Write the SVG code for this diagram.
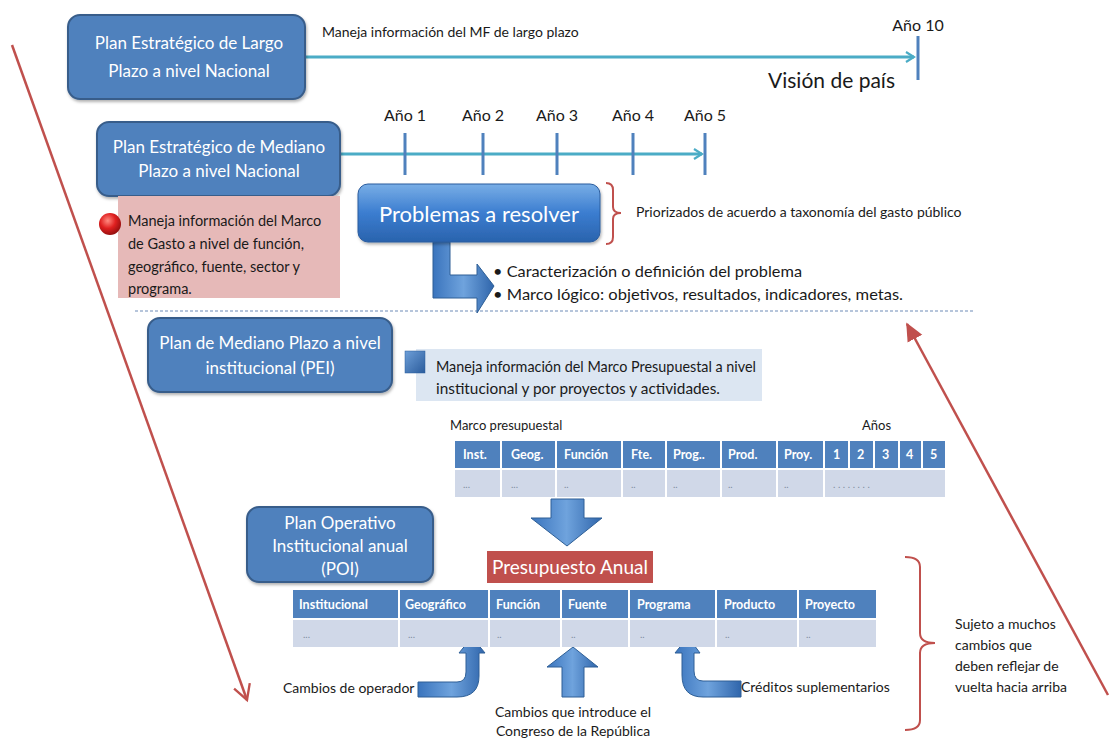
<svg xmlns="http://www.w3.org/2000/svg" width="1112" height="740" viewBox="0 0 1112 740">
  <style>
    .t { font-family: Lato, "Open Sans", "Liberation Sans", sans-serif; fill: #1a1a1a; }
    .box { fill: #4f81bd; stroke: #385d8a; stroke-width: 2; }
    .boxtxt { font-family: Lato, "Open Sans", "Liberation Sans", sans-serif; fill: #ffffff; font-size: 17px; text-anchor: middle; }
    .tick { stroke: #4f81bd; stroke-width: 3; }
    .timeline { stroke: #4bacc6; stroke-width: 3; fill: none; }
    .hdr { fill: #4f81bd; }
    .cell { fill: #d0d8e8; }
    .htxt { font-family: Lato, "Open Sans", "Liberation Sans", sans-serif; font-weight: bold; fill: #ffffff; font-size: 12.5px; }
    .dtxt { font-family: Lato, "Open Sans", "Liberation Sans", sans-serif; fill: #7f8ca0; font-size: 10px; }
    .redline { stroke: #c0504d; stroke-width: 2.5; fill: none; }
    .brace { stroke: #c0504d; stroke-width: 2; fill: none; }
    .barrow { fill: url(#arrowGrad); stroke: #2e5f96; stroke-width: 1; }
  </style>
  <defs>
    <marker id="tlHead" viewBox="0 0 12 12" refX="10" refY="6" markerWidth="4" markerHeight="4" orient="auto" markerUnits="strokeWidth">
      <path d="M2,1 L10,6 L2,11" fill="none" stroke="#4bacc6" stroke-width="2.2"/>
    </marker>
    <marker id="redHeadOpen" viewBox="0 0 12 12" refX="10" refY="6" markerWidth="8" markerHeight="8" orient="auto" markerUnits="strokeWidth">
      <path d="M1,1 L10,6 L1,11" fill="none" stroke="#c0504d" stroke-width="1.4"/>
    </marker>
    <marker id="redHeadFill" viewBox="0 0 12 12" refX="10" refY="6" markerWidth="8" markerHeight="8" orient="auto" markerUnits="strokeWidth">
      <path d="M0,1 L11,6 L0,11 Z" fill="#c0504d"/>
    </marker>
    <linearGradient id="probGrad" x1="0" y1="0" x2="0" y2="1">
      <stop offset="0" stop-color="#79aee6"/>
      <stop offset="0.5" stop-color="#3b7dd0"/>
      <stop offset="1" stop-color="#2a63ad"/>
    </linearGradient>
    <linearGradient id="arrowGrad" x1="0" y1="0" x2="1" y2="0">
      <stop offset="0" stop-color="#3a74bd"/>
      <stop offset="0.5" stop-color="#6fa3dd"/>
      <stop offset="1" stop-color="#2f65ab"/>
    </linearGradient>
    <linearGradient id="squareGrad" x1="0" y1="0" x2="1" y2="1">
      <stop offset="0" stop-color="#6e9fd8"/>
      <stop offset="1" stop-color="#2b5c9c"/>
    </linearGradient>
    <radialGradient id="ballGrad" cx="0.4" cy="0.35" r="0.7">
      <stop offset="0" stop-color="#ff8a80"/>
      <stop offset="0.5" stop-color="#e02020"/>
      <stop offset="1" stop-color="#8b0d0d"/>
    </radialGradient>
    <filter id="shadow" x="-10%" y="-10%" width="130%" height="140%">
      <feDropShadow dx="1" dy="2" stdDeviation="1.5" flood-color="#000" flood-opacity="0.3"/>
    </filter>
  </defs>

  <!-- feedback arrows, timelines, braces and block arrows -->
  <g id="connectors">
    <line class="redline" x1="12" y1="45" x2="247" y2="700" marker-end="url(#redHeadOpen)"/>
    <line class="redline" x1="1108" y1="695" x2="907" y2="324" marker-end="url(#redHeadFill)"/>
    <!-- long-term timeline -->
    <line class="timeline" x1="305" y1="57" x2="914" y2="57" marker-end="url(#tlHead)"/>
    <line class="tick" x1="918" y1="36" x2="918" y2="80"/>
    <!-- medium-term timeline -->
    <line class="timeline" x1="340" y1="154" x2="702" y2="154" marker-end="url(#tlHead)"/>
    <line class="tick" x1="405" y1="133" x2="405" y2="175"/>
    <line class="tick" x1="483" y1="133" x2="483" y2="175"/>
    <line class="tick" x1="557" y1="133" x2="557" y2="175"/>
    <line class="tick" x1="633" y1="133" x2="633" y2="175"/>
    <line class="tick" x1="705" y1="133" x2="705" y2="175"/>
    <!-- separator -->
    <line x1="135" y1="311" x2="975" y2="311" stroke="#9fb3cf" stroke-width="1.5" stroke-dasharray="3 2"/>
    <!-- braces -->
    <path class="brace" d="M606,183 Q613,183 613,190 L613,207 Q613,213 621,213 Q613,213 613,219 L613,237 Q613,244 606,244"/>
    <path class="brace" d="M905,557 Q920,557 920,567 L920,633 Q920,643 935,643 Q920,643 920,653 L920,720 Q920,730 905,730"/>
    <!-- block arrows -->
    <path class="barrow" d="M433,242 L450,242 L450,275 L477,275 L477,264 L494,286 L477,313 L477,298 L433,298 Z"/>
    <path class="barrow" d="M551,499 L584,499 L584,518 L602,518 L567,546 L531,518 L551,518 Z"/>
    <path class="barrow" d="M418,682 L457,682 Q466,682 466,672 L466,653 L459,653 L472,637 L485,653 L479,653 L479,676 Q479,697 457,697 L418,697 Z"/>
    <path class="barrow" d="M562,697 L584,697 L584,667 L598,667 L573,647 L547,667 L562,667 Z"/>
    <path class="barrow" d="M741,681 L703,681 Q694,681 694,671 L694,653 L700,653 L688,637 L675,653 L682,653 L682,675 Q682,697 703,697 L741,697 Z"/>
  </g>

  <g id="plan-largo-plazo">
    <rect class="box" x="68" y="15" width="237" height="84" rx="12" filter="url(#shadow)"/>
    <text class="boxtxt" x="189" y="49" font-size="18.5">Plan Estratégico de Largo</text>
    <text class="boxtxt" x="189" y="77" font-size="18.5">Plazo a nivel Nacional</text>
  </g>

  <g id="labels-largo-plazo">
    <text class="t" x="322" y="37" font-size="14">Maneja información del MF de largo plazo</text>
    <text class="t" x="918" y="31" font-size="16" text-anchor="middle">Año 10</text>
    <text class="t" x="768" y="88" font-size="21" textLength="127" lengthAdjust="spacingAndGlyphs">Visión de país</text>
  </g>

  <g id="plan-mediano-nacional">
    <rect class="box" x="97" y="122" width="243" height="74" rx="12" filter="url(#shadow)"/>
    <text class="boxtxt" x="219" y="153">Plan Estratégico  de Mediano</text>
    <text class="boxtxt" x="219" y="177">Plazo a nivel Nacional</text>
  </g>

  <g id="anios">
    <text class="t" x="405" y="121" font-size="16" text-anchor="middle">Año 1</text>
    <text class="t" x="483" y="121" font-size="16" text-anchor="middle">Año 2</text>
    <text class="t" x="557" y="121" font-size="16" text-anchor="middle">Año 3</text>
    <text class="t" x="633" y="121" font-size="16" text-anchor="middle">Año 4</text>
    <text class="t" x="705" y="121" font-size="16" text-anchor="middle">Año 5</text>
  </g>

  <g id="nota-marco-gasto">
    <rect x="118" y="196" width="222" height="102" fill="#e6b9b8"/>
    <circle cx="110" cy="224" r="11" fill="url(#ballGrad)"/>
    <text class="t" x="128" y="226" font-size="14.5">Maneja información del Marco</text>
    <text class="t" x="128" y="249" font-size="14.5">de Gasto a nivel de función,</text>
    <text class="t" x="128" y="272" font-size="14.5">geográfico, fuente, sector y</text>
    <text class="t" x="128" y="294" font-size="14.5">programa.</text>
  </g>

  <g id="problemas">
    <rect x="358" y="184" width="242" height="58" rx="10" fill="url(#probGrad)" stroke="#2a5c9e" stroke-width="1" filter="url(#shadow)"/>
    <text x="479" y="222" font-family="Lato, 'Open Sans', 'Liberation Sans', sans-serif" font-size="22" fill="#ffffff" text-anchor="middle">Problemas a resolver</text>
  </g>

  <g id="priorizados">
    <text class="t" x="636" y="217" font-size="14">Priorizados de acuerdo a taxonomía del gasto público</text>
  </g>

  <g id="caracterizacion">
    <text class="t" x="493" y="277" font-size="16" textLength="309" lengthAdjust="spacingAndGlyphs">• Caracterización o definición del problema</text>
    <text class="t" x="493" y="300" font-size="16" textLength="410" lengthAdjust="spacingAndGlyphs">• Marco lógico: objetivos, resultados, indicadores, metas.</text>
  </g>

  <g id="plan-pei">
    <rect class="box" x="148" y="318" width="244" height="74" rx="12" filter="url(#shadow)"/>
    <text class="boxtxt" x="270" y="349">Plan de Mediano Plazo a nivel</text>
    <text class="boxtxt" x="270" y="374">institucional (PEI)</text>
  </g>

  <g id="nota-marco-presupuestal">
    <rect x="416" y="349" width="346" height="52" fill="#dce6f2"/>
    <rect x="405" y="351" width="20" height="22" fill="url(#squareGrad)" stroke="#2b5c9c" stroke-width="0.5"/>
    <text class="t" x="436" y="372" font-size="15" textLength="320" lengthAdjust="spacingAndGlyphs">Maneja información del Marco Presupuestal a nivel</text>
    <text class="t" x="436" y="394" font-size="15" textLength="284" lengthAdjust="spacingAndGlyphs">institucional y por proyectos y actividades.</text>
  </g>

  <g id="marco-presupuestal">
    <text class="t" x="450" y="430" font-size="13">Marco presupuestal</text>
    <text class="t" x="862" y="430" font-size="13">Años</text>
    <rect class="hdr" x="455" y="441" width="45" height="27"/>
    <rect class="hdr" x="502" y="441" width="53" height="27"/>
    <rect class="hdr" x="557" y="441" width="64" height="27"/>
    <rect class="hdr" x="623" y="441" width="42" height="27"/>
    <rect class="hdr" x="667" y="441" width="53" height="27"/>
    <rect class="hdr" x="722" y="441" width="54" height="27"/>
    <rect class="hdr" x="778" y="441" width="45" height="27"/>
    <rect class="hdr" x="825" y="441" width="23" height="27"/>
    <rect class="hdr" x="850" y="441" width="23" height="27"/>
    <rect class="hdr" x="875" y="441" width="23" height="27"/>
    <rect class="hdr" x="900" y="441" width="21" height="27"/>
    <rect class="hdr" x="923" y="441" width="22" height="27"/>
    <rect class="cell" x="455" y="470" width="45" height="27"/>
    <rect class="cell" x="502" y="470" width="53" height="27"/>
    <rect class="cell" x="557" y="470" width="64" height="27"/>
    <rect class="cell" x="623" y="470" width="42" height="27"/>
    <rect class="cell" x="667" y="470" width="53" height="27"/>
    <rect class="cell" x="722" y="470" width="54" height="27"/>
    <rect class="cell" x="778" y="470" width="45" height="27"/>
    <rect class="cell" x="825" y="470" width="120" height="27"/>
    <text class="htxt" x="463" y="459">Inst.</text>
    <text class="htxt" x="511" y="459">Geog.</text>
    <text class="htxt" x="564" y="459">Función</text>
    <text class="htxt" x="631" y="459">Fte.</text>
    <text class="htxt" x="673" y="459">Prog..</text>
    <text class="htxt" x="728" y="459">Prod.</text>
    <text class="htxt" x="784" y="459">Proy.</text>
    <text class="htxt" x="833" y="459">1</text>
    <text class="htxt" x="857" y="459">2</text>
    <text class="htxt" x="882" y="459">3</text>
    <text class="htxt" x="906" y="459">4</text>
    <text class="htxt" x="930" y="459">5</text>
    <text class="dtxt" x="463" y="488">...</text>
    <text class="dtxt" x="511" y="488">...</text>
    <text class="dtxt" x="564" y="488">..</text>
    <text class="dtxt" x="631" y="488">..</text>
    <text class="dtxt" x="673" y="488">..</text>
    <text class="dtxt" x="728" y="488">..</text>
    <text class="dtxt" x="784" y="488">..</text>
    <text class="dtxt" x="833" y="488">. . . . . . . .</text>
  </g>

  <g id="plan-poi">
    <rect class="box" x="247" y="507" width="186" height="75" rx="12" filter="url(#shadow)"/>
    <text class="boxtxt" x="340" y="529">Plan Operativo</text>
    <text class="boxtxt" x="340" y="552">Institucional anual</text>
    <text class="boxtxt" x="340" y="575">(POI)</text>
  </g>

  <g id="presupuesto-anual">
    <rect x="487" y="551" width="166" height="32" fill="#c0504d"/>
    <text x="570" y="574" font-family="Lato, 'Open Sans', 'Liberation Sans', sans-serif" font-size="19" fill="#ffffff" text-anchor="middle">Presupuesto Anual</text>
  </g>

  <g id="tabla-presupuesto">
    <rect class="hdr" x="293" y="590" width="105" height="28"/>
    <rect class="hdr" x="400" y="590" width="88" height="28"/>
    <rect class="hdr" x="490" y="590" width="70" height="28"/>
    <rect class="hdr" x="562" y="590" width="66" height="28"/>
    <rect class="hdr" x="630" y="590" width="85" height="28"/>
    <rect class="hdr" x="717" y="590" width="80" height="28"/>
    <rect class="hdr" x="799" y="590" width="77" height="28"/>
    <rect class="cell" x="293" y="620" width="105" height="27"/>
    <rect class="cell" x="400" y="620" width="88" height="27"/>
    <rect class="cell" x="490" y="620" width="70" height="27"/>
    <rect class="cell" x="562" y="620" width="66" height="27"/>
    <rect class="cell" x="630" y="620" width="85" height="27"/>
    <rect class="cell" x="717" y="620" width="80" height="27"/>
    <rect class="cell" x="799" y="620" width="77" height="27"/>
    <text class="htxt" x="299" y="609" font-size="13">Institucional</text>
    <text class="htxt" x="405" y="609" font-size="13">Geográfico</text>
    <text class="htxt" x="496" y="609" font-size="13">Función</text>
    <text class="htxt" x="568" y="609" font-size="13">Fuente</text>
    <text class="htxt" x="637" y="609" font-size="13">Programa</text>
    <text class="htxt" x="724" y="609" font-size="13">Producto</text>
    <text class="htxt" x="805" y="609" font-size="13">Proyecto</text>
    <text class="dtxt" x="303" y="638">...</text>
    <text class="dtxt" x="408" y="638">...</text>
    <text class="dtxt" x="497" y="638">..</text>
    <text class="dtxt" x="571" y="638">..</text>
    <text class="dtxt" x="640" y="638">..</text>
    <text class="dtxt" x="725" y="638">..</text>
    <text class="dtxt" x="806" y="638">..</text>
  </g>

  <g id="cambios">
    <text class="t" x="283" y="693" font-size="14">Cambios de operador</text>
    <text class="t" x="573" y="717" font-size="14" text-anchor="middle">Cambios que introduce el</text>
    <text class="t" x="573" y="736" font-size="14" text-anchor="middle">Congreso de la República</text>
    <text class="t" x="741" y="692" font-size="14">Créditos suplementarios</text>
  </g>

  <g id="sujeto-cambios">
    <text class="t" x="955" y="629" font-size="14">Sujeto a muchos</text>
    <text class="t" x="955" y="650" font-size="14">cambios que</text>
    <text class="t" x="955" y="671" font-size="14">deben reflejar de</text>
    <text class="t" x="955" y="692" font-size="14">vuelta hacia arriba</text>
  </g>
</svg>
